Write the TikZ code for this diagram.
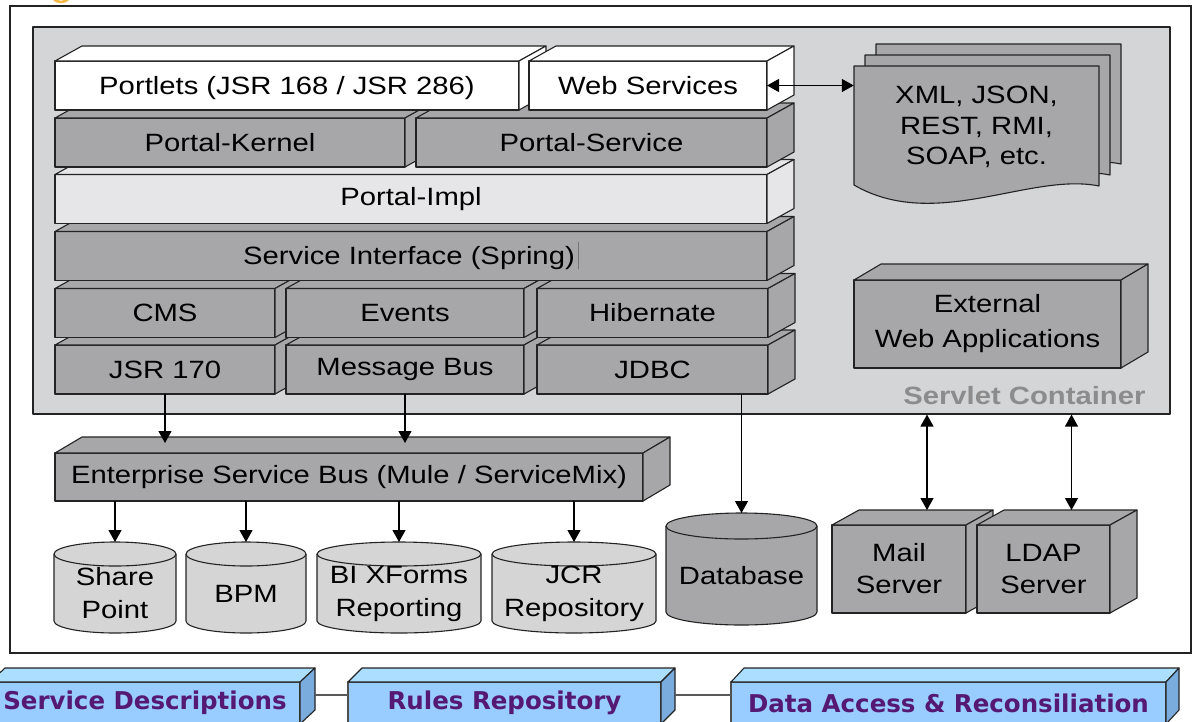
\documentclass[tikz,border=0pt]{standalone}
\usepackage{fontspec}
\usepackage{tikz}
\usetikzlibrary{arrows.meta}

\newfontfamily\diafont{Liberation Sans}[FakeStretch=1.17]
\newfontfamily\tagfont{DejaVu Sans}

\definecolor{slate}{RGB}{167,167,169}
\definecolor{shell}{RGB}{212,213,215}
\definecolor{pale}{RGB}{230,230,232}
\definecolor{drumgray}{RGB}{213,213,213}
\definecolor{edge}{RGB}{35,35,35}
\definecolor{skyfront}{RGB}{153,204,255}
\definecolor{skytop}{RGB}{172,222,255}
\definecolor{skyside}{RGB}{122,172,222}
\definecolor{plum}{RGB}{85,25,115}
\definecolor{caption}{RGB}{140,140,140}
\definecolor{amber}{RGB}{245,185,70}

\pgfdeclarelayer{back}
\pgfsetlayers{back,main}

% top and right faces of a block node: name, top fill, side fill, depth
\newcommand{\boxsides}[4]{%
  \filldraw[face, fill=#2] (#1.north west) -- ++(#4) -- ([shift={(#4)}]#1.north east) -- (#1.north east) -- cycle;
  \filldraw[face, fill=#3] (#1.north east) -- ++(#4) -- ([shift={(#4)}]#1.south east) -- (#1.south east) -- cycle;}

% drum outline round a node: name, fill, x radius, y radius
\newcommand{\drumsides}[4]{%
  \begin{pgfonlayer}{back}
  \filldraw[face, fill=#2] (#1.north west) -- ([yshift=#4]#1.south west)
    arc[start angle=180, end angle=360, x radius=#3, y radius=#4]
    -- (#1.north east) arc[start angle=0, end angle=180, x radius=#3, y radius=#4] -- cycle;
  \draw[face] (#1.north west) arc[start angle=180, end angle=360, x radius=#3, y radius=#4];
  \end{pgfonlayer}}

\begin{document}
\begin{tikzpicture}[x=1pt, y=-1pt,
    face/.style = {draw=edge, line width=1.1pt, line join=round},
    slab/.style = {face,
      fill=slate,
      inner sep=0pt,
      outer sep=0pt,
      minimum height=49pt,
      align=center,
      font=\diafont\fontsize{25}{32}\selectfont},
    drum/.style = {inner sep=0pt,
      outer sep=0pt,
      align=center,
      font=\diafont\fontsize{25}{33}\selectfont},
    tag/.style = {face,
      draw=edge!80,
      fill=skyfront,
      text=plum,
      inner sep=0pt,
      outer sep=0pt,
      minimum height=42pt,
      font=\tagfont\bfseries\fontsize{24.5}{29}\selectfont},
    page/.style = {face, fill=slate},
    link/.style = {line width=1.2pt, -{Triangle[length=12pt,width=13pt]}},
    twoway/.style = {line width=1.2pt, {Triangle[length=12pt,width=13pt]}-{Triangle[length=12pt,width=13pt]}},
    bar/.style = {draw=black!65, line width=1.5pt}]

\useasboundingbox (0,0) rectangle (1197,721);
\clip (0,0) rectangle (1197,721);

\draw[amber, line width=2.5pt] (61,-9) circle (11pt);
\draw[draw=edge, line width=1.3pt] (10,6) rectangle (1191,653);

\node (sc) at (601.5,220.5) [face, fill=shell, minimum width=1137pt, minimum height=387pt] {};
\node (sclabel) at (1149,396) [anchor=east, text=caption, font=\diafont\bfseries\fontsize{25}{30}\selectfont] {Servlet Container};

% document stack
\foreach \s in {22,11,0}
  \filldraw[page, shift={(\s,-\s)}] (854,66) -- (1099,66) -- (1099,186)
    .. controls (1030,172) and (935,232) .. (854,185) -- cycle;
\node (doc) at (976.5,127) [minimum width=245pt, inner sep=0pt, align=center,
  font=\diafont\fontsize{25}{30.5}\selectfont] {XML, JSON,\\REST, RMI,\\SOAP, etc.};

\node (ewa) at (987.5,324) [slab, minimum width=267pt, minimum height=88pt,
  font=\diafont\fontsize{25}{35}\selectfont] {External\\Web Applications};
\boxsides{ewa}{slate}{slate}{27,-16}

% portal stack, bottom row first
\node (jsr) at (165,369.5) [slab, minimum width=220pt] {JSR 170};
\boxsides{jsr}{slate}{slate}{27,-15}
\node (mb) at (405,369.5) [slab, minimum width=238pt] {Message Bus};
\boxsides{mb}{slate}{slate}{27,-15}
\node (jdbc) at (652.5,369.5) [slab, minimum width=231pt] {JDBC};
\boxsides{jdbc}{slate}{slate}{27,-15}

\node (cms) at (165,313) [slab, minimum width=220pt] {CMS};
\boxsides{cms}{slate}{slate}{27,-15}
\node (ev) at (405,313) [slab, minimum width=238pt] {Events};
\boxsides{ev}{slate}{slate}{27,-15}
\node (hib) at (652.5,313) [slab, minimum width=231pt] {Hibernate};
\boxsides{hib}{slate}{slate}{27,-15}

\node (si) at (411,256) [slab, minimum width=712pt]
  {Service Interface (Spring)\hspace{3pt}\textcolor{black!55}{\rule[-5pt]{1pt}{27pt}}};
\boxsides{si}{slate}{slate}{27,-15}

\node (impl) at (411,199) [slab, fill=pale, minimum width=712pt] {Portal-Impl};
\boxsides{impl}{pale}{pale}{27,-15}

\node (kern) at (230,142.5) [slab, minimum width=350pt] {Portal-Kernel};
\boxsides{kern}{slate}{slate}{27,-15}
\node (psvc) at (591.5,142.5) [slab, minimum width=351pt] {Portal-Service};
\boxsides{psvc}{slate}{slate}{27,-15}

\node (portlets) at (287,85.5) [slab, fill=white, minimum width=464pt, text depth=0pt] {Portlets (JSR 168 / JSR 286)};
\boxsides{portlets}{white}{white}{27,-15}
\node (ws) at (648,85.5) [slab, fill=white, minimum width=238pt] {Web Services};
\boxsides{ws}{white}{white}{27,-15}

\node (esb) at (349,477) [slab, minimum width=588pt, minimum height=48pt] {Enterprise Service Bus (Mule / ServiceMix)};
\boxsides{esb}{slate}{slate}{27,-16}

% stores
\node (sp) at (115,593.5) [drum, minimum width=122pt, minimum height=79pt] {Share\\Point};
\drumsides{sp}{drumgray}{61pt}{12pt}
\node (bpm) at (246,593.5) [drum, minimum width=120pt, minimum height=79pt] {BPM};
\drumsides{bpm}{drumgray}{60pt}{12pt}
\node (bi) at (399,593.5) [drum, minimum width=164pt, minimum height=79pt] {BI XForms\\Reporting};
\drumsides{bi}{drumgray}{82pt}{12pt}
\node (jcr) at (574,593.5) [drum, minimum width=164pt, minimum height=79pt] {JCR\\Repository};
\drumsides{jcr}{drumgray}{82pt}{12pt}
\node (db) at (741.5,575.5) [drum, minimum width=151pt, minimum height=99pt] {Database};
\drumsides{db}{slate}{75.5pt}{13pt}

\node (mail) at (899,569) [slab, minimum width=134pt, minimum height=88pt] {Mail\\Server};
\boxsides{mail}{slate}{slate}{27,-15}
\node (ldap) at (1043.5,569) [slab, minimum width=133pt, minimum height=88pt] {LDAP\\Server};
\boxsides{ldap}{slate}{slate}{27,-15}

\coordinate (esbtop) at ([yshift=10pt]esb.north);
\coordinate (mailtop) at ([shift={(28,-15)}]mail.north);
\coordinate (ldaptop) at ([shift={(28,-15)}]ldap.north);

\draw[link] (jsr.south) -- (jsr.south |- esbtop);
\draw[link] (mb.south) -- (mb.south |- esbtop);
\draw[link] (esb.south -| sp.north) -- ([yshift=12pt]sp.north);
\draw[link] (esb.south -| bpm.north) -- ([yshift=12pt]bpm.north);
\draw[link] (esb.south -| bi.north) -- ([yshift=12pt]bi.north);
\draw[link] (esb.south -| jcr.north) -- ([yshift=12pt]jcr.north);
\draw[link] (jdbc.south -| db.north) -- ([yshift=13pt]db.north);
\draw[twoway] (sc.south -| mailtop) -- (mailtop);
\draw[twoway] (sc.south -| ldaptop) -- (ldaptop);
\draw[twoway] (ws.east) -- (ws.east -| doc.west);

% bottom band
\node (sd) at (145,703) [tag, minimum width=310pt] {Service Descriptions};
\boxsides{sd}{skytop}{skyside}{15,-14}
\node (rr) at (504.5,703) [tag, minimum width=313pt] {Rules Repository};
\boxsides{rr}{skytop}{skyside}{14,-14}
\node (da) at (948.5,703) [tag, minimum width=435pt] {Data Access \& Reconsiliation};
\boxsides{da}{skytop}{skyside}{13,-14}

\draw[bar] ([shift={(15,-8)}]sd.east) -- ([yshift=8pt]rr.west);
\draw[bar] ([shift={(14,-8)}]rr.east) -- ([yshift=8pt]da.west);

\end{tikzpicture}
\end{document}
